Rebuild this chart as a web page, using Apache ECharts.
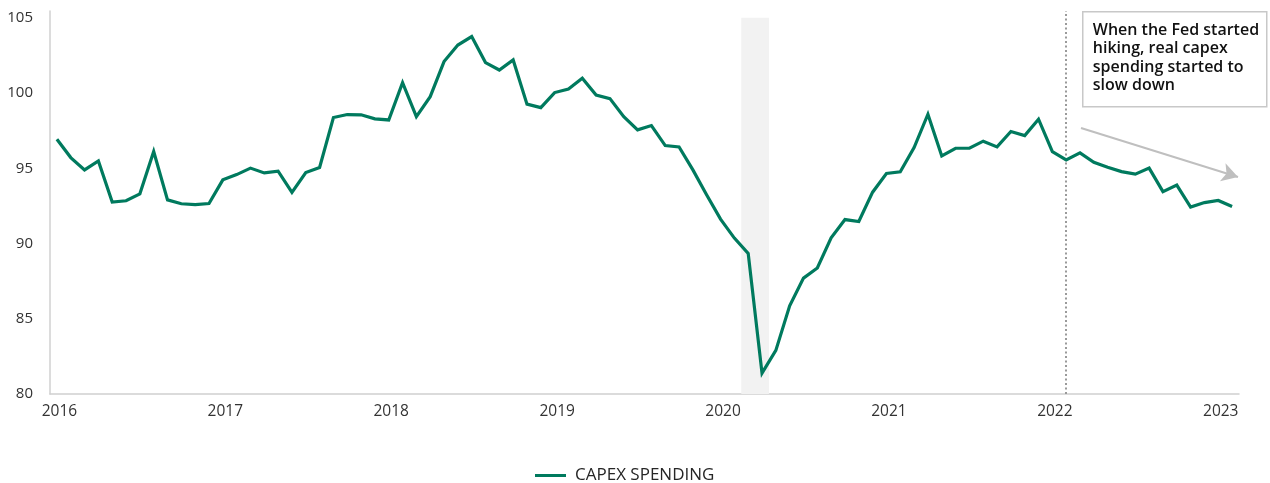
<!DOCTYPE html>
<html>
<head>
<meta charset="utf-8">
<script src="https://cdn.jsdelivr.net/npm/echarts@6/dist/echarts.min.js"></script>
<style>html,body{margin:0;padding:0;background:#fff;}#chart{width:1270px;height:483px;}</style>
</head>
<body>
<div id="chart"></div>
<script>
// Monthly categories Jan 2016 .. Feb 2023
const startYear = 2016;
const monthCount = 86;
const months = [];
for (let i = 0; i < monthCount; i++) {
  const y = startYear + Math.floor(i / 12);
  const m = (i % 12) + 1;
  months.push(y + '-' + (m < 10 ? '0' + m : m));
}
const yearLabels = ['2016','2017','2018','2019','2020','2021','2022','2023'];
const seriesName = 'CAPEX SPENDING';
const capexSpending = [
  96.93, 95.71, 94.89, 95.49, 92.75, 92.84, 93.30, 96.11, 92.90, 92.64, 92.59, 92.66,
  94.23, 94.58, 95.01, 94.69, 94.81, 93.39, 94.72, 95.05, 98.37, 98.57, 98.55, 98.28,
  98.21, 100.69, 98.43, 99.76, 102.09, 103.19, 103.75, 102.02, 101.53, 102.20, 99.26, 99.03,
  100.03, 100.27, 100.98, 99.87, 99.63, 98.43, 97.55, 97.84, 96.51, 96.42, 94.89, 93.23,
  91.62, 90.36, 89.34, 81.39, 82.90, 85.86, 87.70, 88.37, 90.38, 91.59, 91.46, 93.41,
  94.65, 94.76, 96.37, 98.59, 95.82, 96.33, 96.33, 96.80, 96.42, 97.44, 97.17, 98.26,
  96.11, 95.56, 96.02, 95.40, 95.07, 94.78, 94.61, 95.01, 93.45, 93.88, 92.42, 92.72,
  92.86, 92.46
];
const recessionStart = '2020-03';
const recessionEnd = '2020-04';
const fedHikeMonth = '2022-02';
const annotationText = 'When the Fed started\nhiking, real capex\nspending started to\nslow down';

const recStartIdx = months.indexOf(recessionStart);
const recEndIdx = months.indexOf(recessionEnd);

const chart = echarts.init(document.getElementById('chart'), null, {renderer: 'canvas'});
const option = {
  animation: false,
  backgroundColor: '#ffffff',
  grid: {left: 50, right: 31, top: 11, bottom: 89, containLabel: false},
  legend: {
    data: [{name: seriesName, icon: 'rect'}],
    left: 530, top: 462,
    itemWidth: 31, itemHeight: 3, itemGap: 10,
    textStyle: {fontFamily: 'Open Sans', fontSize: 17, color: '#262626', padding: [0,0,0,4]}
  },
  xAxis: [{
    type: 'category',
    data: months,
    boundaryGap: true,
    axisLine: {show: true, onZero: false, lineStyle: {color: '#d0d0d0', width: 1.5}},
    axisTick: {show: false},
    splitLine: {show: false},
    axisLabel: {
      interval: function (idx) { return idx % 12 === 0; },
      formatter: function (v) { const y = v.slice(0, 4); return yearLabels.indexOf(y) >= 0 ? y : ''; },
      margin: 10, fontFamily: 'Open Sans', fontSize: 15.5, color: '#333', padding: [0,0,0,5]
    }
  }, {
    type: 'value',
    min: -0.5, max: monthCount - 0.5,
    show: false
  }],
  yAxis: {
    type: 'value',
    min: 80, max: 105.45, interval: 5,
    axisLine: {show: true, onZero: false, lineStyle: {color: '#d0d0d0', width: 1.5}},
    axisTick: {show: false},
    splitLine: {show: false},
    axisLabel: {
      formatter: function (v) { return (Math.abs(v % 5) < 1e-6) ? String(v) : ''; },
      margin: 17, fontFamily: 'Open Sans', fontSize: 15, color: '#333'
    }
  },
  series: [{
    name: 'recession',
    type: 'line',
    xAxisIndex: 1,
    data: [],
    silent: true,
    markArea: {
      silent: true,
      itemStyle: {color: '#f2f2f2'},
      data: [[{xAxis: recStartIdx - 0.5, yAxis: 80}, {xAxis: recEndIdx + 0.5, yAxis: 105}]]
    }
  }, {
    name: seriesName,
    type: 'line',
    data: capexSpending,
    symbol: 'none',
    lineStyle: {color: '#007a5e', width: 3.2, join: 'miter'},
    itemStyle: {color: '#007a5e'},
    z: 5,
    markLine: {
      silent: true,
      symbol: ['none', 'none'],
      label: {show: false},
      data: [
        {xAxis: fedHikeMonth, lineStyle: {color: '#9a9a9a', type: [2, 2.5], width: 2}},
        [
          {x: 1081, y: 128, lineStyle: {color: '#bfbfbf', type: 'solid', width: 2}, symbol: 'none'},
          {x: 1238, y: 177, symbol: 'arrow', symbolSize: [14, 16]}
        ]
      ]
    }
  }],
  graphic: [
    {
      type: 'group', left: 1082, top: 11, z: 10,
      children: [
        {type: 'rect', shape: {x: 0, y: 0, width: 184, height: 95},
         style: {fill: '#ffffff', stroke: '#c8c8c8', lineWidth: 1.5}},
        {type: 'text', x: 10, y: 9,
         style: {text: annotationText, fontFamily: 'Open Sans', fontWeight: 600, fontSize: 16,
                 lineHeight: 18.5, fill: '#111'}}
      ]
    }
  ]
};
chart.setOption(option);
</script>
</body>
</html>
